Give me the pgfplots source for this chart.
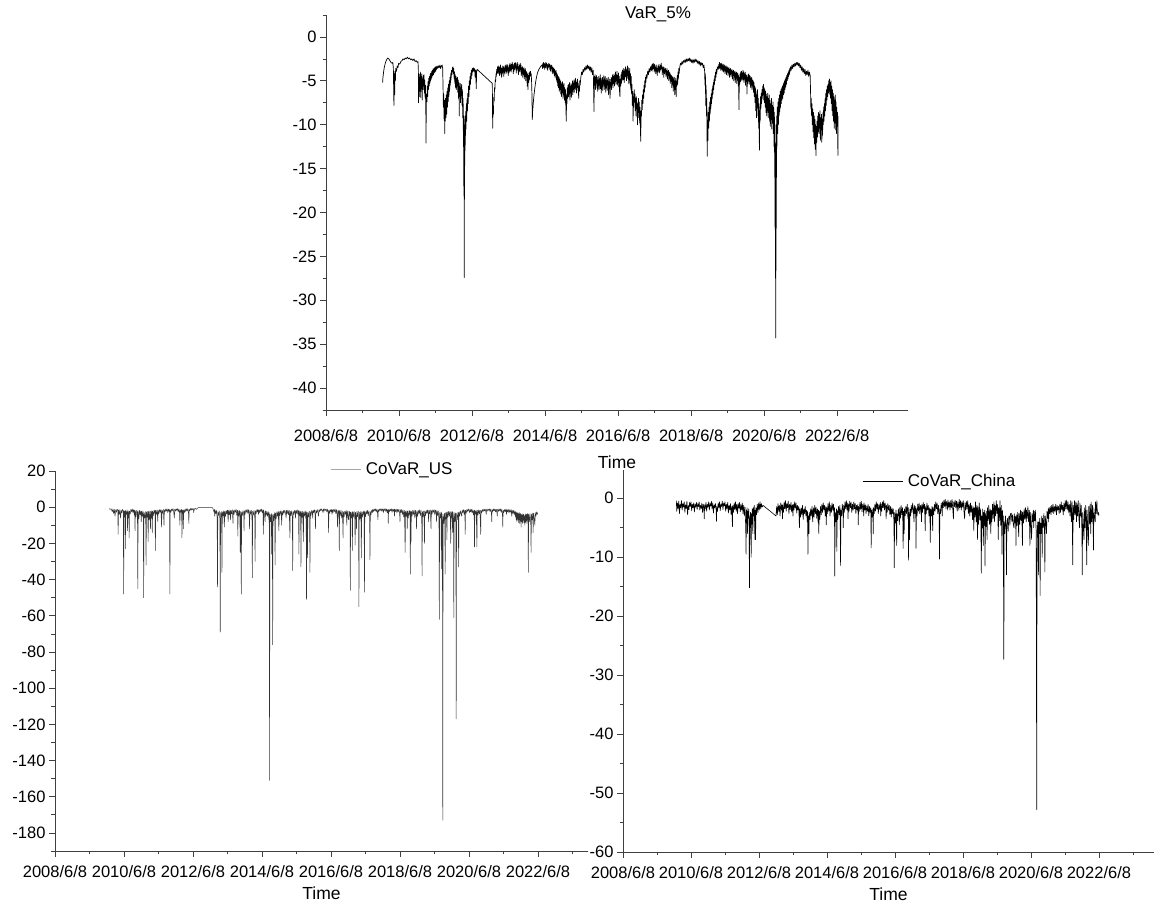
\documentclass[border=0pt]{standalone}
\usepackage{pgfplots}
\pgfplotsset{compat=1.18}
\usepackage{fontspec}
\setmainfont{Liberation Sans}

% x axis: years elapsed since 2008/6/8
\pgfplotsset{
  panel/.style={
    scale only axis,
    anchor=south west,
    axis lines=left,
    axis line style={-, line width=0.7pt, black!75},
    every tick/.style={black!75, line width=0.7pt},
    tick align=outside,
    major tick length=6pt,
    minor tick length=3.5pt,
    xmin=0,
    xtick={0,2,...,14},
    xticklabels={2008/6/8,2010/6/8,2012/6/8,2014/6/8,2016/6/8,2018/6/8,2020/6/8,2022/6/8},
    minor xtick={1,3,...,15},
    tick label style={font=\fontsize{16.5}{19}\selectfont},
    label style={font=\fontsize{17.5}{20}\selectfont},
    /pgf/number format/assume math mode=true,
    xlabel={Time},
    legend style={draw=none, fill=none, font=\fontsize{17}{20}\selectfont, anchor=west, inner sep=0pt, column sep=3pt},
    legend cell align=left,
  },
  series/.style={line width=0.6pt, line join=round, black},
}

\begin{document}
\begin{tikzpicture}
\useasboundingbox (0pt,0pt) rectangle (1159pt,907pt);

% ---------------- VaR 5% ----------------
\begin{axis}[panel,
  at={(326pt,497pt)}, width=582pt, height=395pt,
  xmax=15.94, ymin=-42.5, ymax=2.5,
  ytick={-40,-35,...,0}, minor ytick={-42.5,-37.5,...,2.5},
  xticklabel style={yshift=-10pt},
  xlabel style={at={(axis description cs:0.5,-0.132)}, anchor=center},
  legend style={at={(rel axis cs:0.505,1.003)}},
  legend image code/.code={},
]
\addplot[series, line width=0.7pt] coordinates {
(1.55,-5.2)(1.56,-4.6)(1.58,-3.9)(1.60,-3.4)(1.63,-2.9)(1.66,-2.6)(1.69,-2.4)(1.72,-2.5)(1.75,-2.7)(1.78,-2.9)(1.81,-3.0)(1.83,-2.9)(1.845,-3.6)(1.86,-7.8)(1.87,-4.2)(1.88,-6.6)(1.89,-3.9)(1.90,-5.0)(1.91,-3.6)(1.93,-3.9)(1.95,-3.3)(1.97,-3.5)(1.99,-3.0)(2.02,-3.1)(2.05,-2.8)(2.08,-2.7)(2.11,-2.5)(2.14,-2.6)(2.17,-2.4)(2.20,-2.5)(2.23,-2.3)(2.26,-2.5)(2.29,-2.4)(2.32,-2.6)(2.35,-2.5)(2.38,-2.7)(2.41,-2.5)(2.44,-2.8)(2.47,-2.7)(2.50,-2.9)(2.52,-2.8)
(2.53,-3.8)(2.535,-7.5)(2.545,-4.2)(2.555,-6.8)(2.565,-4.6)(2.575,-6.2)(2.585,-4.0)(2.595,-6.9)(2.605,-4.5)(2.615,-5.8)(2.625,-4.2)(2.635,-7.2)(2.645,-4.8)(2.655,-6.0)(2.665,-4.4)(2.675,-5.6)(2.685,-4.3)(2.695,-6.4)(2.705,-4.9)(2.715,-7.0)(2.725,-5.5)(2.735,-9.0)(2.74,-12.1)(2.745,-8.0)(2.755,-6.5)(2.765,-7.4)(2.775,-5.6)(2.785,-6.8)(2.795,-5.1)(2.805,-6.0)(2.815,-4.7)(2.825,-5.6)(2.835,-4.5)(2.845,-5.3)(2.855,-4.2)(2.865,-5.0)(2.875,-4.1)(2.885,-4.8)(2.895,-3.9)(2.905,-4.6)(2.915,-3.8)(2.925,-4.4)(2.935,-3.6)(2.945,-4.3)(2.955,-3.7)(2.965,-4.1)(2.975,-3.5)(2.985,-4.0)(2.995,-3.4)(3.005,-3.9)(3.015,-3.4)(3.025,-3.7)(3.04,-3.3)(3.06,-3.6)(3.08,-3.3)(3.10,-3.5)(3.12,-3.2)(3.14,-3.6)(3.16,-3.3)(3.18,-3.2)(3.195,-3.6)
(3.205,-5.5)(3.215,-8.0)(3.225,-6.5)(3.235,-9.5)(3.245,-7.2)(3.25,-11.0)(3.255,-8.3)(3.265,-9.6)(3.275,-7.0)(3.285,-9.2)(3.295,-6.6)(3.305,-8.8)(3.315,-6.2)(3.325,-8.0)(3.335,-5.8)(3.345,-7.4)(3.355,-5.4)(3.365,-6.8)(3.375,-5.0)(3.385,-6.2)(3.395,-4.6)(3.405,-5.5)(3.415,-4.2)(3.425,-4.9)(3.435,-3.8)(3.45,-4.3)(3.465,-3.5)(3.48,-3.4)
(3.49,-4.2)(3.50,-3.6)(3.51,-4.8)(3.52,-4.0)(3.53,-5.3)(3.54,-4.3)(3.55,-5.8)(3.56,-4.5)(3.57,-6.0)(3.58,-4.7)(3.59,-5.6)(3.60,-4.6)(3.61,-6.3)(3.62,-4.9)(3.63,-7.0)(3.64,-5.2)(3.65,-9.0)(3.655,-5.6)(3.665,-6.8)(3.675,-5.3)(3.685,-7.5)(3.695,-5.8)(3.705,-6.6)(3.715,-5.4)(3.725,-7.8)(3.735,-6.0)(3.745,-9.2)(3.755,-7.0)(3.765,-12.5)(3.77,-9.0)(3.775,-17.0)(3.78,-11.0)(3.785,-27.4)(3.79,-12.5)(3.795,-18.5)(3.80,-10.0)(3.805,-13.0)(3.81,-9.0)(3.815,-12.3)(3.825,-8.5)(3.835,-10.5)(3.845,-7.6)(3.855,-9.6)(3.865,-7.0)(3.875,-8.4)(3.885,-6.4)(3.895,-7.6)(3.905,-5.6)(3.915,-6.8)(3.925,-5.0)(3.935,-6.0)(3.945,-4.5)(3.955,-5.4)(3.965,-4.1)(3.975,-4.8)(3.985,-3.8)(3.995,-4.4)(4.005,-3.6)(4.02,-4.0)(4.035,-3.5)(4.05,-3.9)(4.07,-3.6)(4.085,-4.6)(4.10,-3.8)(4.115,-5.9)(4.125,-4.0)(4.14,-3.7)
(4.555,-5.3)(4.565,-10.4)(4.575,-8.2)(4.585,-8.8)(4.595,-6.9)(4.605,-7.3)(4.615,-5.8)(4.625,-6.0)(4.635,-4.9)(4.645,-5.1)(4.655,-4.2)(4.665,-4.5)(4.675,-3.7)(4.685,-4.1)
(4.70,-3.4)(4.71,-4.2)(4.72,-3.3)(4.73,-4.0)(4.74,-3.5)(4.75,-4.4)(4.76,-3.4)(4.77,-4.1)(4.78,-3.2)(4.79,-4.3)(4.80,-3.5)(4.81,-4.6)(4.82,-3.6)(4.83,-4.2)(4.84,-3.3)(4.85,-4.0)(4.86,-3.4)(4.87,-4.5)(4.88,-3.6)(4.89,-4.1)(4.90,-3.3)(4.91,-3.9)(4.92,-3.2)(4.93,-4.2)(4.94,-3.4)(4.95,-4.0)(4.96,-3.1)(4.97,-3.8)(4.98,-3.3)(4.99,-4.4)(5.00,-3.5)(5.01,-4.1)(5.02,-3.2)(5.03,-3.9)(5.04,-3.0)(5.05,-3.8)(5.06,-3.2)(5.07,-4.0)(5.08,-3.1)(5.09,-3.7)(5.10,-2.9)(5.11,-3.6)(5.12,-3.1)(5.13,-4.2)(5.14,-3.3)(5.15,-3.9)(5.16,-3.0)(5.17,-3.7)(5.18,-2.9)(5.19,-3.5)(5.20,-3.0)(5.21,-4.1)(5.22,-3.3)(5.23,-3.8)(5.24,-2.9)(5.25,-3.6)(5.26,-3.1)(5.27,-4.3)(5.28,-3.4)(5.29,-3.9)(5.30,-3.2)(5.31,-4.0)(5.32,-3.0)(5.33,-3.7)(5.34,-3.2)(5.35,-4.4)(5.36,-3.5)(5.37,-4.2)(5.38,-3.4)(5.39,-4.6)(5.40,-3.6)(5.41,-4.3)(5.42,-3.5)(5.43,-4.8)(5.44,-3.8)(5.45,-4.5)(5.46,-3.6)(5.47,-5.0)(5.48,-3.9)(5.49,-4.6)(5.50,-4.0)(5.51,-5.6)(5.52,-4.2)(5.53,-6.0)(5.54,-4.4)(5.55,-5.2)(5.56,-4.1)(5.57,-4.9)(5.58,-4.0)(5.59,-4.5)(5.60,-3.9)(5.61,-4.4)(5.62,-4.2)(5.63,-5.0)(5.64,-6.5)
(5.65,-9.4)(5.66,-8.4)(5.67,-7.9)(5.685,-7.1)(5.70,-6.5)(5.72,-5.8)(5.74,-5.2)(5.76,-4.7)(5.78,-4.3)(5.80,-4.0)(5.83,-3.7)(5.86,-3.5)(5.89,-3.3)(5.92,-3.2)
(5.93,-3.6)(5.94,-3.0)(5.95,-3.5)(5.96,-2.9)(5.97,-3.4)(5.98,-3.0)(5.99,-3.7)(6.00,-3.1)(6.01,-3.5)(6.02,-2.9)(6.03,-3.3)(6.04,-3.0)(6.05,-3.6)(6.06,-3.1)(6.07,-3.8)(6.08,-3.2)(6.09,-3.5)(6.10,-3.0)(6.11,-3.4)(6.12,-3.1)(6.13,-3.7)(6.14,-3.2)(6.15,-3.9)(6.16,-3.3)(6.17,-3.6)(6.18,-3.2)(6.19,-4.0)(6.20,-3.4)(6.21,-4.2)(6.22,-3.6)(6.23,-4.0)(6.24,-3.5)(6.25,-4.4)(6.26,-3.7)(6.27,-4.6)(6.28,-3.9)(6.29,-4.3)(6.30,-3.8)
(6.31,-4.9)(6.32,-4.1)(6.33,-5.2)(6.34,-4.3)(6.35,-5.6)(6.36,-4.5)(6.37,-5.8)(6.38,-4.6)(6.39,-6.2)(6.40,-4.8)(6.41,-6.0)(6.42,-5.0)(6.43,-6.5)(6.44,-5.2)(6.45,-6.8)(6.46,-5.4)(6.47,-6.4)(6.48,-5.1)(6.49,-7.0)(6.50,-5.5)(6.51,-6.6)(6.52,-5.3)(6.53,-7.2)(6.54,-5.8)(6.55,-7.5)(6.56,-6.0)(6.57,-8.0)(6.58,-9.6)(6.59,-6.5)(6.60,-7.6)(6.61,-5.8)(6.62,-7.0)(6.63,-5.5)(6.64,-6.8)(6.65,-5.4)(6.66,-6.5)(6.67,-5.2)(6.68,-7.2)(6.69,-5.6)(6.70,-6.4)(6.71,-5.3)(6.72,-6.9)(6.73,-5.5)(6.74,-6.2)(6.75,-5.0)(6.76,-6.6)(6.77,-5.3)(6.78,-6.0)(6.79,-4.9)(6.80,-6.3)(6.81,-5.1)(6.82,-5.8)(6.83,-4.7)(6.84,-6.0)(6.85,-5.0)(6.86,-6.4)(6.87,-5.2)(6.88,-5.7)(6.89,-4.8)(6.90,-6.1)(6.91,-5.3)(6.92,-7.0)(6.93,-5.6)(6.94,-6.2)(6.95,-5.0)(6.96,-5.5)
(6.98,-4.6)(7.00,-4.0)(7.02,-4.3)(7.04,-3.7)(7.06,-4.0)(7.08,-3.5)(7.10,-3.8)(7.12,-3.3)(7.14,-3.7)(7.16,-3.2)(7.18,-3.6)(7.20,-3.3)(7.22,-3.8)(7.24,-3.4)(7.26,-4.0)(7.28,-3.5)(7.30,-4.3)(7.32,-3.8)(7.34,-8.5)(7.35,-4.5)(7.36,-5.5)(7.37,-4.3)(7.38,-6.0)(7.39,-4.6)
(7.40,-5.2)(7.41,-4.4)(7.42,-5.8)(7.43,-4.6)(7.44,-6.2)(7.45,-4.9)(7.46,-5.6)(7.47,-4.5)(7.48,-6.0)(7.49,-4.8)(7.50,-5.5)(7.51,-4.3)(7.52,-5.9)(7.53,-4.7)(7.54,-6.4)(7.55,-5.0)(7.56,-5.7)(7.57,-4.6)(7.58,-6.1)(7.59,-4.9)(7.60,-5.4)(7.61,-4.4)(7.62,-6.0)(7.63,-4.8)(7.64,-5.6)(7.65,-4.5)(7.66,-6.3)(7.67,-5.0)(7.68,-5.8)(7.69,-4.7)(7.70,-6.1)(7.71,-4.9)(7.72,-5.5)(7.73,-4.6)(7.74,-6.6)(7.75,-5.1)(7.76,-5.9)(7.77,-4.8)(7.78,-7.0)(7.79,-5.2)(7.80,-5.7)(7.81,-4.6)(7.82,-6.0)(7.83,-4.7)(7.84,-5.4)(7.85,-4.3)(7.86,-5.8)(7.87,-4.5)(7.88,-5.3)(7.89,-4.2)(7.90,-5.6)(7.91,-4.4)(7.92,-5.1)(7.93,-4.0)(7.94,-5.4)(7.95,-4.3)(7.96,-5.0)(7.97,-3.9)(7.98,-5.5)(7.99,-4.4)(8.00,-5.2)(8.01,-4.1)(8.02,-5.7)(8.03,-4.5)(8.04,-6.2)(8.05,-6.8)(8.06,-4.8)(8.07,-5.6)(8.08,-4.3)(8.09,-5.3)(8.10,-4.0)(8.11,-5.0)(8.12,-3.8)(8.13,-4.8)(8.14,-3.6)(8.15,-4.9)(8.16,-3.9)(8.17,-5.2)(8.18,-3.7)(8.19,-4.6)(8.20,-3.4)(8.21,-4.5)(8.22,-3.6)(8.23,-5.0)(8.24,-3.8)(8.25,-4.7)(8.26,-3.3)(8.27,-4.4)(8.28,-3.5)(8.29,-5.3)(8.30,-3.9)(8.31,-4.9)(8.32,-3.6)(8.33,-5.5)(8.34,-4.2)(8.35,-6.0)(8.36,-4.5)
(8.37,-6.5)(8.38,-5.4)(8.39,-7.8)(8.40,-6.2)(8.41,-9.6)(8.42,-6.8)(8.43,-8.0)(8.44,-6.0)(8.45,-7.4)(8.46,-6.5)(8.47,-8.4)(8.48,-7.0)(8.49,-9.0)(8.50,-6.8)(8.51,-8.2)(8.52,-7.4)(8.53,-10.0)(8.54,-7.6)(8.55,-9.2)(8.56,-7.0)(8.57,-8.6)(8.58,-7.4)(8.59,-9.8)(8.60,-8.0)(8.61,-10.3)(8.62,-11.9)(8.63,-8.4)(8.64,-9.0)(8.65,-7.2)(8.66,-8.3)(8.67,-6.6)(8.68,-7.6)(8.69,-6.0)(8.70,-7.0)(8.71,-5.5)(8.72,-6.3)(8.73,-5.0)(8.74,-5.8)(8.75,-4.6)(8.76,-5.2)(8.77,-4.3)(8.79,-4.7)(8.81,-3.9)(8.83,-4.3)(8.85,-3.6)(8.87,-4.0)(8.89,-3.4)(8.91,-3.8)
(8.92,-3.2)(8.93,-3.9)(8.94,-3.1)(8.95,-3.7)(8.96,-3.0)(8.97,-3.6)(8.98,-3.2)(8.99,-4.0)(9.00,-3.1)(9.01,-3.8)(9.02,-3.3)(9.03,-4.2)(9.04,-3.5)(9.05,-3.9)(9.06,-3.2)(9.07,-4.4)(9.08,-3.6)(9.09,-4.0)(9.10,-3.3)(9.11,-3.8)(9.12,-3.1)(9.13,-4.1)(9.14,-3.4)(9.15,-3.9)(9.16,-3.2)(9.17,-3.7)(9.18,-3.0)(9.19,-3.6)(9.20,-3.3)(9.21,-4.3)(9.22,-3.5)(9.23,-4.0)(9.24,-3.4)(9.25,-4.6)(9.26,-3.7)(9.27,-4.2)(9.28,-3.5)(9.29,-4.0)(9.30,-3.6)(9.31,-4.5)(9.32,-3.8)(9.33,-4.3)(9.34,-3.6)(9.35,-4.8)(9.36,-3.9)(9.37,-4.4)(9.38,-3.8)(9.39,-5.0)(9.40,-4.0)(9.41,-4.7)(9.42,-4.1)(9.43,-5.3)(9.44,-4.3)(9.45,-5.0)(9.46,-4.4)(9.47,-5.8)(9.48,-4.6)(9.49,-5.4)(9.50,-4.5)(9.51,-6.2)(9.52,-4.8)(9.53,-5.7)(9.54,-4.6)(9.55,-6.6)(9.56,-5.0)(9.57,-6.0)(9.58,-4.7)(9.59,-6.8)(9.60,-5.1)(9.61,-5.6)(9.62,-4.4)(9.63,-5.4)(9.64,-4.0)(9.65,-4.8)(9.66,-3.6)(9.67,-4.2)
(9.69,-3.4)(9.71,-3.0)(9.73,-3.2)(9.75,-2.8)(9.77,-3.1)(9.79,-2.7)(9.81,-2.9)(9.83,-2.6)(9.85,-2.9)(9.87,-2.5)(9.89,-2.8)(9.91,-2.5)(9.93,-2.7)(9.95,-2.4)(9.97,-2.8)(9.99,-2.5)(10.01,-2.9)(10.03,-2.6)(10.05,-3.0)(10.07,-2.6)(10.09,-2.9)(10.11,-2.5)(10.13,-2.8)(10.15,-2.6)(10.17,-3.0)(10.19,-2.7)(10.21,-3.1)(10.23,-2.8)(10.25,-3.3)(10.27,-2.9)(10.29,-3.2)(10.31,-3.0)(10.33,-3.5)(10.35,-3.2)(10.37,-3.9)
(10.38,-5.5)(10.39,-4.2)(10.40,-7.8)(10.41,-5.5)(10.42,-9.0)(10.43,-7.0)(10.44,-13.6)(10.45,-9.5)(10.46,-11.8)(10.47,-8.6)(10.48,-10.4)(10.49,-8.0)(10.50,-9.6)(10.51,-7.4)(10.52,-8.8)(10.53,-6.9)(10.54,-8.2)(10.55,-6.5)(10.56,-7.6)(10.57,-6.0)(10.58,-7.0)(10.59,-5.6)(10.60,-6.5)(10.61,-5.2)(10.62,-6.0)(10.63,-4.8)(10.64,-5.4)(10.65,-4.4)(10.66,-5.0)(10.67,-4.0)(10.68,-4.6)(10.69,-3.7)(10.70,-4.2)(10.72,-3.4)(10.74,-3.7)(10.76,-3.1)
(10.77,-3.6)(10.78,-2.9)(10.79,-3.5)(10.80,-3.0)(10.81,-3.8)(10.82,-3.1)(10.83,-3.6)(10.84,-3.0)(10.85,-3.9)(10.86,-3.2)(10.87,-3.7)(10.88,-3.1)(10.89,-4.0)(10.90,-3.3)(10.91,-3.8)(10.92,-3.2)(10.93,-4.2)(10.94,-3.4)(10.95,-3.9)(10.96,-3.3)(10.97,-4.3)(10.98,-3.5)(10.99,-4.0)(11.00,-3.4)(11.01,-4.4)(11.02,-3.6)(11.03,-4.1)(11.04,-3.5)(11.05,-4.6)(11.06,-3.7)(11.07,-4.3)(11.08,-3.6)(11.09,-4.5)(11.10,-3.8)(11.11,-4.2)(11.12,-3.7)(11.13,-4.8)(11.14,-3.9)(11.15,-4.4)(11.16,-3.8)(11.17,-5.0)(11.18,-4.0)(11.19,-4.6)(11.20,-3.9)(11.21,-5.2)(11.22,-4.1)(11.23,-4.7)(11.24,-4.0)(11.25,-5.3)(11.26,-4.2)(11.27,-4.9)(11.28,-4.1)(11.29,-5.6)(11.30,-4.4)(11.31,-8.3)(11.32,-4.6)(11.33,-5.4)(11.34,-4.2)(11.35,-5.1)(11.36,-4.0)(11.37,-4.8)(11.38,-3.9)(11.39,-5.0)(11.40,-4.1)(11.41,-4.7)(11.42,-3.8)(11.43,-4.9)(11.44,-4.0)(11.45,-5.2)(11.46,-4.2)(11.47,-4.8)(11.48,-4.0)(11.49,-5.5)(11.50,-4.3)(11.51,-5.0)(11.52,-4.4)(11.53,-6.5)(11.54,-4.6)(11.55,-5.3)(11.56,-4.3)(11.57,-5.0)(11.58,-4.2)(11.59,-5.4)(11.60,-4.4)(11.61,-5.1)(11.62,-4.5)(11.63,-5.8)(11.64,-4.7)(11.65,-5.5)(11.66,-4.6)(11.67,-6.0)(11.68,-4.9)(11.69,-5.6)(11.70,-5.0)(11.71,-6.3)(11.72,-5.2)(11.73,-6.8)
(11.74,-5.6)(11.75,-7.5)(11.76,-5.8)(11.77,-8.4)(11.78,-6.2)(11.79,-9.2)(11.80,-6.6)(11.81,-8.0)(11.82,-6.0)(11.83,-9.0)(11.84,-7.0)(11.85,-10.4)(11.86,-7.6)(11.87,-12.9)(11.88,-8.4)(11.89,-9.6)(11.90,-6.8)(11.91,-8.2)(11.92,-6.4)(11.93,-7.6)(11.94,-6.0)(11.95,-7.0)(11.96,-5.6)(11.97,-6.6)(11.98,-5.4)(11.99,-7.2)(12.00,-5.8)(12.01,-7.5)(12.02,-6.0)(12.03,-8.0)(12.04,-6.2)(12.05,-8.6)(12.06,-6.5)(12.07,-9.0)(12.08,-6.8)(12.09,-8.4)(12.10,-6.4)(12.11,-9.2)(12.12,-7.0)(12.13,-8.6)(12.14,-6.6)(12.15,-9.6)(12.16,-7.2)(12.17,-10.2)(12.18,-7.6)(12.19,-9.4)(12.20,-7.0)(12.21,-10.5)(12.22,-7.8)(12.23,-9.8)(12.24,-7.4)(12.25,-11.0)(12.26,-8.0)(12.27,-12.5)(12.28,-8.6)(12.29,-16.0)(12.295,-10.0)(12.30,-22.0)(12.305,-12.0)(12.31,-27.5)(12.315,-14.0)(12.32,-34.3)(12.325,-12.5)(12.33,-21.8)(12.335,-10.0)(12.34,-16.0)(12.345,-9.0)(12.35,-12.4)(12.36,-8.0)(12.37,-11.0)(12.38,-7.4)(12.39,-10.0)(12.40,-7.0)(12.41,-9.0)(12.42,-6.6)(12.43,-8.5)(12.44,-6.2)(12.45,-8.0)(12.46,-6.0)(12.47,-7.6)(12.48,-5.8)(12.49,-7.2)(12.50,-5.6)(12.51,-7.0)(12.52,-5.4)(12.53,-6.6)(12.54,-5.2)(12.55,-6.4)(12.56,-5.0)(12.57,-6.0)(12.58,-4.8)(12.59,-5.7)(12.60,-4.6)(12.61,-5.4)(12.62,-4.4)(12.63,-5.0)(12.64,-4.2)(12.65,-4.8)(12.66,-4.0)(12.67,-4.5)(12.68,-3.8)(12.69,-4.3)(12.70,-3.6)(12.71,-4.0)
(12.72,-3.4)(12.74,-3.8)(12.76,-3.2)(12.78,-3.6)(12.80,-3.1)(12.82,-3.4)(12.84,-3.0)(12.86,-3.3)(12.88,-2.9)(12.90,-3.2)(12.92,-2.9)(12.94,-3.3)(12.96,-3.0)(12.98,-3.5)(13.00,-3.2)(13.02,-3.8)(13.04,-3.4)(13.06,-4.0)(13.08,-3.6)(13.10,-4.2)(13.12,-3.7)(13.14,-4.4)(13.16,-3.9)(13.18,-4.3)(13.20,-3.8)(13.22,-4.5)(13.24,-4.0)(13.26,-4.4)
(13.27,-6.0)(13.28,-8.2)(13.29,-7.0)(13.30,-9.0)(13.31,-7.6)(13.32,-10.0)(13.33,-8.2)(13.34,-10.8)(13.35,-8.6)(13.36,-11.5)(13.37,-9.0)(13.38,-12.2)(13.39,-9.4)(13.40,-12.8)(13.41,-10.0)(13.42,-13.5)(13.43,-10.2)(13.44,-12.0)(13.45,-9.6)(13.46,-11.4)(13.47,-9.0)(13.48,-10.8)(13.49,-8.6)(13.50,-11.0)(13.51,-8.8)(13.52,-10.4)(13.53,-8.4)(13.54,-11.8)(13.55,-9.2)(13.56,-10.6)(13.57,-8.8)(13.58,-12.0)(13.59,-9.4)(13.60,-11.2)(13.61,-8.6)(13.62,-10.0)(13.63,-8.0)(13.64,-9.6)(13.65,-7.6)(13.66,-9.0)(13.67,-7.0)(13.68,-8.4)(13.69,-6.4)(13.70,-7.8)(13.71,-6.0)(13.72,-7.2)(13.73,-5.6)(13.74,-6.8)(13.75,-5.4)(13.76,-6.4)(13.77,-5.0)(13.78,-6.2)(13.79,-4.8)(13.80,-6.6)(13.81,-5.2)(13.82,-7.0)(13.83,-5.0)(13.84,-7.6)(13.85,-5.6)(13.86,-8.4)(13.87,-6.0)(13.88,-9.0)(13.89,-6.4)(13.90,-9.6)(13.91,-6.8)(13.92,-10.4)(13.93,-7.2)(13.94,-9.8)(13.95,-6.6)(13.96,-10.6)(13.97,-7.4)(13.98,-11.0)(13.99,-8.0)(14.00,-10.2)(14.01,-8.6)(14.02,-13.5)(14.025,-9.0)
};
\addlegendentry{VaR\_5\%}
\end{axis}

% ---------------- CoVaR US ----------------
\begin{axis}[panel,
  at={(55pt,56pt)}, width=533pt, height=380pt,
  xmax=15.45, ymin=-190, ymax=20,
  ytick={-180,-160,...,20}, minor ytick={-190,-170,...,10},
  xticklabel style={yshift=-5pt},
  xlabel style={at={(axis description cs:0.5,-0.11)}, anchor=center},
  legend style={at={(rel axis cs:0.516,1.004)}},
  legend image code/.code={\draw[black!35, line width=0.6pt] (0pt,0pt) -- (30pt,0pt);},
]
\addplot[series, black!80, line width=0.5pt] coordinates {
(1.57,-0.8)(1.60,-1.2)(1.63,-0.9)(1.66,-2.5)(1.68,-1.0)(1.70,-3.5)(1.72,-1.2)(1.74,-5.0)(1.76,-1.4)(1.78,-2.8)(1.80,-1.1)(1.82,-1.6)(1.83,-15)(1.84,-1.5)(1.86,-4.0)(1.88,-1.3)(1.90,-6.0)(1.92,-1.6)(1.94,-3.2)(1.96,-1.2)(1.98,-2.0)(1.99,-48)(2.00,-2.2)(2.02,-5.5)(2.03,-1.8)(2.04,-23)(2.05,-2.0)(2.07,-4.0)(2.09,-1.5)(2.10,-13)(2.11,-2.4)(2.13,-6.0)(2.14,-2.0)(2.15,-17)(2.16,-2.2)(2.18,-3.8)(2.20,-1.2)(2.22,-2.6)(2.24,-1.0)(2.26,-3.0)(2.28,-1.3)(2.30,-4.5)(2.31,-1.6)(2.32,-13)(2.33,-2.0)(2.35,-5.2)(2.37,-1.7)(2.39,-3.0)(2.40,-45)(2.41,-2.1)(2.43,-6.5)(2.45,-1.8)(2.47,-4.2)(2.49,-2.0)(2.50,-8)(2.51,-2.3)(2.53,-5.0)(2.55,-2.0)(2.56,-7.0)(2.57,-50)(2.58,-3.0)(2.60,-6.0)(2.62,-2.4)(2.63,-8.0)(2.64,-32)(2.65,-2.6)(2.67,-5.5)(2.69,-2.2)(2.70,-19)(2.71,-2.4)(2.73,-7.0)(2.75,-2.0)(2.77,-12)(2.78,-2.2)(2.80,-6.0)(2.81,-2.0)(2.82,-14)(2.83,-2.3)(2.85,-4.8)(2.87,-1.8)(2.89,-3.5)(2.90,-1.6)(2.91,-24)(2.92,-1.9)(2.94,-4.0)(2.96,-1.5)(2.98,-8)(2.99,-1.7)
(3.01,-3.6)(3.03,-1.4)(3.05,-2.8)(3.07,-1.3)(3.09,-11)(3.10,-1.6)(3.12,-3.4)(3.14,-1.2)(3.16,-10)(3.17,-1.5)(3.19,-2.6)(3.21,-1.0)(3.23,-2.2)(3.25,-0.9)(3.27,-3.0)(3.29,-1.1)(3.31,-2.4)(3.32,-1.3)(3.33,-48)(3.34,-1.5)(3.36,-2.8)(3.38,-1.0)(3.40,-2.0)(3.42,-0.8)(3.44,-2.5)(3.46,-6)(3.47,-1.2)(3.49,-2.2)(3.51,-0.9)(3.53,-1.8)(3.55,-0.8)(3.57,-2.6)(3.59,-1.0)(3.61,-3.0)(3.62,-10)(3.63,-1.4)(3.65,-2.8)(3.67,-1.2)(3.68,-17)(3.69,-1.6)(3.71,-2.2)(3.72,-12)(3.73,-1.5)(3.75,-3.0)(3.77,-1.0)(3.79,-2.4)(3.81,-0.9)(3.83,-2.0)(3.85,-0.8)(3.87,-3.5)(3.88,-9)(3.89,-1.2)(3.91,-2.0)(3.93,-0.7)(3.95,-1.6)(3.97,-0.6)(3.99,-1.4)(4.01,-0.8)(4.02,-3)(4.04,-1.0)(4.07,-0.6)(4.10,-1.2)(4.13,-0.5)(4.15,-0.3)(4.57,-0.3)
(4.59,-1.5)(4.61,-2.8)(4.62,-1.2)(4.63,-5)(4.64,-1.6)(4.66,-3.5)(4.68,-1.8)(4.70,-6.0)(4.71,-44)(4.72,-2.5)(4.74,-4.5)(4.76,-2.0)(4.78,-7.0)(4.79,-69)(4.80,-3.0)(4.82,-5.5)(4.83,-2.4)(4.84,-36)(4.85,-2.6)(4.87,-4.8)(4.89,-2.0)(4.91,-11)(4.92,-2.2)(4.94,-5.2)(4.96,-1.8)(4.98,-3.8)(5.00,-1.6)(5.02,-8)(5.03,-1.8)(5.05,-4.2)(5.07,-1.5)(5.09,-7)(5.10,-1.7)(5.12,-3.6)(5.14,-1.4)(5.16,-9)(5.17,-1.8)(5.19,-4.0)(5.21,-1.5)(5.23,-2.8)(5.25,-1.2)(5.27,-4.5)(5.29,-1.6)(5.30,-16)(5.31,-2.0)(5.33,-5.0)(5.35,-1.8)(5.36,-6.5)(5.37,-25)(5.38,-2.4)(5.39,-5.0)(5.40,-48)(5.41,-2.6)(5.43,-4.6)(5.45,-1.9)(5.47,-3.5)(5.48,-13)(5.49,-2.0)(5.51,-4.0)(5.53,-1.5)(5.55,-2.8)(5.57,-1.2)(5.59,-3.4)(5.61,-1.4)(5.63,-5.0)(5.64,-12)(5.65,-1.8)(5.67,-3.8)(5.69,-1.6)(5.71,-6.0)(5.72,-39)(5.73,-2.2)(5.75,-4.4)(5.77,-1.8)(5.79,-5.5)(5.80,-30)(5.81,-2.0)(5.83,-3.6)(5.85,-1.4)(5.87,-2.6)(5.88,-1.2)(5.90,-4)(5.91,-1.5)(5.93,-3.0)(5.95,-1.2)(5.97,-2.4)(5.99,-1.0)
(6.01,-3.2)(6.03,-1.4)(6.04,-15)(6.05,-1.8)(6.07,-3.6)(6.09,-8)(6.10,-2.0)(6.12,-4.5)(6.14,-2.2)(6.16,-5.0)(6.18,-2.5)(6.20,-7.0)(6.21,-3.0)(6.22,-151)(6.23,-4.0)(6.25,-8.0)(6.27,-3.5)(6.28,-26)(6.29,-4.2)(6.30,-9.0)(6.31,-76)(6.32,-3.8)(6.34,-7.5)(6.36,-3.0)(6.37,-6.0)(6.38,-32)(6.39,-3.2)(6.41,-6.5)(6.43,-2.6)(6.45,-5.0)(6.47,-2.2)(6.49,-13)(6.50,-2.4)(6.52,-4.6)(6.54,-2.0)(6.56,-3.8)(6.57,-10)(6.58,-2.2)(6.60,-4.4)(6.62,-1.8)(6.64,-3.4)(6.66,-1.6)(6.68,-2.8)(6.70,-6)(6.71,-1.8)(6.73,-3.6)(6.75,-1.5)(6.77,-4.2)(6.79,-1.8)(6.81,-17)(6.82,-2.2)(6.84,-4.6)(6.86,-2.0)(6.88,-5.4)(6.89,-35)(6.90,-2.4)(6.92,-4.0)(6.94,-1.8)(6.96,-3.2)(6.97,-6)(6.98,-1.6)
(7.00,-3.4)(7.02,-1.4)(7.04,-4.0)(7.06,-1.8)(7.07,-26)(7.08,-2.0)(7.10,-4.8)(7.12,-2.2)(7.13,-33)(7.14,-2.5)(7.16,-5.6)(7.18,-2.2)(7.20,-19)(7.21,-2.6)(7.23,-5.0)(7.25,-2.0)(7.27,-6.2)(7.28,-2.4)(7.29,-51)(7.30,-3.0)(7.31,-6.0)(7.32,-28)(7.33,-2.8)(7.35,-5.4)(7.37,-2.2)(7.38,-6.4)(7.39,-36)(7.40,-2.6)(7.42,-4.6)(7.44,-1.8)(7.46,-3.2)(7.47,-6)(7.48,-1.6)(7.50,-3.0)(7.52,-1.4)(7.54,-4.0)(7.55,-12)(7.56,-1.8)(7.58,-3.2)(7.60,-1.3)(7.62,-2.6)(7.64,-5)(7.65,-1.4)(7.67,-2.4)(7.69,-1.0)(7.71,-2.0)(7.73,-0.9)(7.75,-1.8)(7.77,-3)(7.78,-1.0)(7.80,-2.2)(7.82,-0.9)(7.84,-1.8)(7.86,-1.0)(7.88,-2.6)(7.90,-1.2)(7.92,-3.0)(7.93,-14)(7.94,-1.6)(7.96,-3.4)(7.98,-1.3)
(8.00,-2.6)(8.02,-1.2)(8.03,-4)(8.04,-1.4)(8.06,-3.0)(8.08,-1.2)(8.10,-2.4)(8.12,-1.0)(8.14,-3.6)(8.16,-1.4)(8.18,-4.5)(8.19,-11)(8.20,-1.8)(8.22,-3.8)(8.23,-1.6)(8.24,-24)(8.25,-2.0)(8.27,-4.6)(8.29,-1.8)(8.31,-6.0)(8.33,-2.2)(8.34,-8.0)(8.35,-17)(8.36,-2.6)(8.38,-5.4)(8.40,-2.2)(8.42,-4.0)(8.44,-1.8)(8.46,-10)(8.47,-2.0)(8.49,-4.4)(8.51,-7)(8.52,-2.2)(8.54,-5.0)(8.55,-2.4)(8.56,-46)(8.57,-2.8)(8.59,-6.0)(8.61,-2.5)(8.62,-24)(8.63,-2.6)(8.65,-5.5)(8.67,-2.2)(8.69,-6.4)(8.70,-21)(8.71,-2.8)(8.73,-5.0)(8.74,-12)(8.75,-2.4)(8.77,-5.2)(8.79,-2.2)(8.80,-7.0)(8.81,-55)(8.82,-2.8)(8.84,-6.4)(8.86,-2.4)(8.87,-8.0)(8.88,-28)(8.89,-2.6)(8.91,-5.6)(8.93,-2.2)(8.95,-4.4)(8.96,-2.0)(8.97,-47)(8.98,-2.6)
(9.00,-5.2)(9.02,-2.0)(9.04,-3.8)(9.06,-1.8)(9.08,-4.6)(9.10,-2.0)(9.12,-6.0)(9.13,-29)(9.14,-2.4)(9.16,-4.2)(9.18,-1.6)(9.20,-3)(9.21,-1.2)(9.23,-2.4)(9.25,-1.0)(9.27,-2.0)(9.29,-0.9)(9.31,-2.6)(9.33,-1.1)(9.35,-3.4)(9.36,-7)(9.37,-1.3)(9.39,-2.4)(9.41,-1.0)(9.43,-1.8)(9.45,-0.8)(9.47,-2.2)(9.49,-1.0)(9.51,-2.0)(9.52,-3)(9.53,-0.9)(9.55,-1.8)(9.57,-0.8)(9.59,-2.4)(9.61,-1.0)(9.63,-3.0)(9.65,-1.2)(9.66,-9)(9.67,-1.4)(9.69,-2.6)(9.71,-1.0)(9.73,-2.0)(9.75,-0.9)(9.77,-2.8)(9.79,-1.1)(9.81,-2.2)(9.83,-1.0)(9.84,-5)(9.85,-1.2)(9.87,-2.4)(9.89,-1.0)(9.91,-3.2)(9.93,-1.2)(9.95,-2.6)(9.97,-1.1)(9.99,-3.6)
(10.00,-8)(10.01,-1.4)(10.03,-3.0)(10.05,-1.2)(10.07,-4.0)(10.09,-1.6)(10.11,-5.5)(10.13,-1.8)(10.15,-25)(10.16,-2.2)(10.18,-5.0)(10.20,-2.0)(10.21,-12)(10.22,-2.2)(10.24,-6.0)(10.26,-2.0)(10.28,-4.4)(10.29,-1.8)(10.30,-37)(10.31,-2.4)(10.32,-19)(10.33,-2.2)(10.35,-5.0)(10.37,-1.8)(10.39,-4.0)(10.41,-1.6)(10.43,-6.0)(10.45,-1.8)(10.47,-4.4)(10.48,-12)(10.49,-2.0)(10.51,-5.0)(10.53,-1.8)(10.55,-3.6)(10.57,-1.4)(10.59,-4.8)(10.61,-1.8)(10.63,-6.4)(10.64,-38)(10.65,-2.4)(10.67,-5.4)(10.69,-2.0)(10.70,-6.0)(10.71,-20)(10.72,-2.2)(10.74,-4.6)(10.76,-1.8)(10.78,-3.4)(10.80,-1.5)(10.82,-4.0)(10.83,-8)(10.84,-1.6)(10.86,-3.6)(10.88,-1.5)(10.90,-12)(10.91,-1.8)(10.93,-3.8)(10.95,-1.5)(10.97,-2.8)(10.99,-1.3)
(11.01,-4.2)(11.03,-1.6)(11.05,-3.4)(11.06,-8)(11.07,-1.8)(11.09,-4.6)(11.11,-2.0)(11.13,-7.0)(11.14,-62)(11.15,-3.0)(11.17,-6.0)(11.19,-2.6)(11.20,-34)(11.21,-3.2)(11.23,-8.0)(11.24,-173)(11.25,-4.0)(11.27,-9.0)(11.29,-3.4)(11.30,-7.0)(11.31,-37)(11.32,-3.0)(11.34,-6.5)(11.35,-2.8)(11.36,-18)(11.37,-2.6)(11.39,-5.6)(11.41,-2.2)(11.43,-4.8)(11.45,-2.4)(11.46,-7.0)(11.47,-20)(11.48,-2.6)(11.50,-6.0)(11.51,-2.4)(11.52,-14)(11.53,-2.6)(11.55,-7.5)(11.56,-61)(11.57,-3.0)(11.59,-8.0)(11.61,-3.2)(11.62,-10)(11.63,-117)(11.64,-3.4)(11.66,-7.0)(11.68,-2.8)(11.69,-6.0)(11.70,-33)(11.71,-2.6)(11.73,-5.0)(11.75,-2.0)(11.77,-3.6)(11.79,-5)(11.80,-1.6)(11.82,-3.0)(11.84,-1.4)(11.86,-4.0)(11.88,-1.6)(11.89,-15)(11.90,-1.8)(11.92,-3.4)(11.94,-1.2)(11.96,-2.4)(11.98,-1.0)
(12.00,-2.0)(12.02,-3)(12.03,-1.0)(12.05,-2.6)(12.07,-1.2)(12.09,-3.2)(12.11,-1.4)(12.13,-4.2)(12.15,-1.6)(12.16,-22)(12.17,-1.8)(12.19,-3.8)(12.21,-1.6)(12.23,-22)(12.24,-1.8)(12.26,-4.4)(12.28,-1.5)(12.30,-3.6)(12.32,-1.6)(12.34,-15)(12.35,-1.8)(12.37,-3.0)(12.39,-1.3)(12.41,-2.4)(12.43,-1.1)(12.45,-2.0)(12.47,-1.0)(12.49,-2.6)(12.50,-4)(12.51,-1.2)(12.53,-2.2)(12.55,-1.0)(12.57,-1.8)(12.59,-0.9)(12.61,-2.4)(12.63,-1.1)(12.65,-3.0)(12.66,-8)(12.67,-1.3)(12.69,-2.4)(12.71,-1.0)(12.73,-2.0)(12.75,-0.9)(12.77,-2.6)(12.79,-1.1)(12.81,-3.0)(12.82,-5)(12.83,-1.2)(12.85,-2.4)(12.87,-1.0)(12.89,-2.0)(12.91,-0.9)(12.93,-2.8)(12.95,-1.2)(12.97,-4.0)(12.98,-11)(12.99,-1.6)
(13.01,-3.0)(13.03,-1.3)(13.05,-2.4)(13.07,-1.1)(13.09,-4)(13.10,-1.3)(13.12,-2.6)(13.14,-1.2)(13.16,-3.2)(13.18,-1.4)(13.20,-2.8)(13.22,-1.3)(13.24,-5)(13.25,-1.6)(13.27,-3.4)(13.29,-1.8)(13.31,-4.2)(13.33,-2.0)(13.35,-5.5)(13.36,-2.4)(13.37,-7.0)(13.38,-3.0)(13.39,-8.0)(13.40,-3.4)(13.41,-6.5)(13.42,-2.8)(13.43,-8.5)(13.44,-3.6)(13.45,-7.0)(13.46,-3.0)(13.47,-9.0)(13.48,-4.0)(13.49,-7.5)(13.50,-3.4)(13.51,-11)(13.52,-4.2)(13.53,-8.0)(13.54,-3.6)(13.55,-9.0)(13.56,-4.4)(13.57,-7.2)(13.58,-3.8)(13.59,-8.6)(13.60,-4.6)(13.61,-7.0)(13.62,-10)(13.63,-4.2)(13.64,-8.4)(13.65,-3.6)(13.66,-7.6)(13.67,-4.0)(13.68,-9.0)(13.69,-3.8)(13.70,-7.0)(13.71,-3.4)(13.72,-36)(13.73,-4.0)(13.75,-8.0)(13.77,-3.6)(13.79,-9.0)(13.80,-25)(13.81,-3.8)(13.83,-7.0)(13.85,-3.2)(13.86,-14)(13.87,-3.4)(13.89,-6.0)(13.91,-10)(13.92,-3.0)(13.94,-5.0)(13.96,-2.6)(13.98,-4.0)(13.99,-3.0)
};
\addlegendentry{CoVaR\_US}
\end{axis}

% ---------------- CoVaR China ----------------
\begin{axis}[panel,
  at={(623pt,55pt)}, width=531pt, height=382pt,
  xmax=15.62, ymin=-60, ymax=4.8,
  ytick={-60,-50,...,0}, minor ytick={-55,-45,...,-5},
  xticklabel style={yshift=-5pt},
  xlabel style={at={(axis description cs:0.5,-0.11)}, anchor=center},
  legend style={at={(rel axis cs:0.45,0.971)}},
  legend image code/.code={\draw[black, line width=0.7pt] (0pt,0pt) -- (40pt,0pt);},
]
\addplot[series] coordinates {
(1.57,-0.4)(1.58,-2.2)(1.60,-0.8)(1.62,-1.8)(1.64,-0.5)(1.66,-2.6)(1.68,-1.0)(1.70,-1.6)(1.72,-0.4)(1.74,-2.0)(1.76,-0.9)(1.78,-1.5)(1.80,-0.6)(1.82,-2.4)(1.84,-1.1)(1.86,-1.7)(1.88,-0.5)(1.90,-2.8)(1.92,-1.2)(1.94,-1.9)(1.96,-0.7)(1.98,-1.4)(2.00,-0.6)(2.02,-2.1)(2.04,-1.0)(2.06,-1.6)(2.08,-0.8)(2.10,-2.3)(2.12,-1.0)(2.14,-1.5)(2.16,-0.7)(2.18,-1.9)(2.20,-0.9)(2.22,-1.4)(2.24,-0.6)(2.26,-2.0)(2.28,-1.2)(2.30,-1.7)(2.32,-0.8)(2.34,-2.4)(2.36,-1.0)(2.38,-1.6)(2.39,-3.5)(2.40,-1.1)(2.42,-1.8)(2.44,-0.7)(2.46,-2.2)(2.48,-1.0)(2.50,-1.5)(2.52,-0.6)(2.54,-2.0)(2.56,-0.9)(2.58,-1.3)(2.60,-0.5)(2.62,-1.8)(2.64,-0.8)(2.66,-2.5)(2.68,-1.1)(2.70,-1.6)(2.72,-0.9)(2.74,-2.0)(2.75,-3.9)(2.76,-1.4)(2.78,-2.2)(2.80,-0.8)(2.82,-1.6)(2.84,-0.6)(2.86,-2.1)(2.88,-1.0)(2.90,-1.4)(2.92,-0.5)(2.94,-1.9)(2.96,-0.8)(2.98,-1.3)
(3.00,-0.6)(3.02,-2.2)(3.04,-1.0)(3.06,-1.8)(3.08,-0.7)(3.10,-2.5)(3.12,-1.2)(3.14,-2.0)(3.16,-0.9)(3.18,-2.8)(3.20,-1.4)(3.22,-4.8)(3.23,-1.2)(3.25,-2.4)(3.27,-0.8)(3.29,-1.9)(3.31,-0.6)(3.33,-2.2)(3.35,-1.0)(3.37,-2.6)(3.39,-0.9)(3.41,-1.7)(3.43,-0.7)(3.45,-2.3)(3.47,-1.1)(3.49,-2.0)(3.51,-0.8)(3.53,-2.6)(3.55,-1.2)(3.57,-3.0)(3.59,-1.5)(3.61,-5.0)(3.62,-9.5)(3.63,-2.0)(3.64,-3.2)(3.65,-1.6)(3.66,-6.0)(3.67,-2.2)(3.69,-3.4)(3.70,-1.8)(3.71,-5.5)(3.72,-15.2)(3.73,-3.0)(3.74,-5.0)(3.75,-2.4)(3.76,-4.0)(3.77,-10.0)(3.78,-2.6)(3.79,-4.4)(3.80,-1.8)(3.81,-3.6)(3.82,-6.0)(3.83,-1.6)(3.85,-3.0)(3.86,-1.2)(3.87,-4.0)(3.88,-7.0)(3.89,-2.0)(3.90,-7.0)(3.91,-1.6)(3.93,-2.8)(3.95,-1.0)(3.97,-2.4)(3.99,-0.8)(4.01,-2.0)(4.03,-0.6)(4.05,-1.8)(4.07,-0.9)(4.09,-1.5)(4.12,-1.2)(4.50,-3.0)
(4.52,-1.4)(4.54,-2.8)(4.56,-0.9)(4.58,-2.2)(4.60,-1.2)(4.62,-3.0)(4.64,-0.8)(4.66,-2.0)(4.68,-1.0)(4.69,-3.5)(4.70,-1.2)(4.72,-2.4)(4.74,-0.6)(4.76,-1.8)(4.78,-0.4)(4.80,-2.2)(4.82,-0.9)(4.84,-1.6)(4.86,-0.5)(4.88,-2.6)(4.90,-1.0)(4.92,-1.9)(4.94,-0.7)(4.96,-2.3)(4.98,-1.1)(5.00,-3.0)(5.01,-1.0)(5.03,-2.0)(5.05,-0.6)(5.07,-1.7)(5.09,-0.8)(5.11,-2.5)(5.13,-1.2)(5.15,-2.0)(5.17,-1.4)(5.19,-5.0)(5.20,-1.8)(5.22,-3.2)(5.24,-1.6)(5.26,-2.8)(5.28,-1.2)(5.30,-3.6)(5.32,-1.8)(5.34,-2.6)(5.36,-1.4)(5.38,-3.0)(5.40,-2.0)(5.42,-4.0)(5.43,-2.2)(5.44,-9.5)(5.45,-3.0)(5.46,-4.5)(5.47,-6.0)(5.48,-2.4)(5.50,-3.6)(5.52,-1.8)(5.54,-3.0)(5.56,-1.4)(5.58,-4.0)(5.60,-1.6)(5.62,-3.2)(5.64,-1.2)(5.66,-2.6)(5.68,-1.5)(5.70,-3.4)(5.72,-1.8)(5.74,-4.2)(5.75,-2.0)(5.76,-6.0)(5.77,-2.2)(5.79,-3.6)(5.81,-1.4)(5.83,-2.8)(5.85,-1.0)(5.87,-2.4)(5.89,-0.8)(5.91,-2.0)(5.93,-1.2)(5.95,-3.0)(5.97,-1.4)(5.98,-4.5)(5.99,-1.6)
(6.01,-2.6)(6.03,-0.9)(6.05,-2.2)(6.07,-0.6)(6.09,-3.0)(6.11,-1.2)(6.13,-2.4)(6.15,-0.8)(6.17,-2.0)(6.19,-1.0)(6.21,-3.2)(6.22,-1.6)(6.23,-13.2)(6.24,-2.4)(6.26,-4.0)(6.28,-1.8)(6.29,-9.0)(6.30,-2.0)(6.32,-3.6)(6.34,-1.4)(6.36,-2.8)(6.38,-1.2)(6.39,-4.0)(6.40,-11.4)(6.41,-2.0)(6.43,-3.0)(6.45,-1.0)(6.47,-2.2)(6.48,-5.0)(6.49,-1.2)(6.51,-2.4)(6.53,-0.6)(6.55,-1.8)(6.57,-0.4)(6.59,-2.0)(6.61,-0.8)(6.62,-3.5)(6.63,-1.0)(6.65,-2.2)(6.67,-0.5)(6.69,-1.6)(6.71,-0.7)(6.73,-2.4)(6.75,-1.0)(6.77,-2.0)(6.79,-0.6)(6.81,-1.8)(6.83,-0.9)(6.85,-2.6)(6.87,-1.2)(6.89,-2.0)(6.91,-1.0)(6.92,-4.5)(6.93,-1.4)(6.95,-2.2)(6.97,-0.7)(6.99,-1.9)
(7.01,-0.5)(7.03,-2.3)(7.05,-1.0)(7.07,-1.6)(7.08,-3.0)(7.09,-0.8)(7.11,-2.0)(7.13,-1.1)(7.15,-2.6)(7.17,-1.3)(7.19,-2.2)(7.21,-1.0)(7.23,-3.0)(7.25,-1.4)(7.27,-2.4)(7.29,-1.6)(7.30,-8.4)(7.31,-2.0)(7.33,-3.2)(7.35,-1.8)(7.36,-6.0)(7.37,-1.6)(7.39,-2.6)(7.41,-1.0)(7.43,-2.2)(7.45,-0.6)(7.47,-1.8)(7.49,-0.9)(7.51,-2.6)(7.53,-1.1)(7.55,-1.9)(7.57,-0.7)(7.58,-3.0)(7.59,-1.0)(7.61,-2.2)(7.63,-0.6)(7.65,-1.6)(7.67,-0.4)(7.69,-2.0)(7.71,-0.8)(7.73,-1.8)(7.74,-3.5)(7.75,-1.2)(7.77,-2.4)(7.79,-0.9)(7.81,-2.0)(7.83,-1.2)(7.85,-2.8)(7.87,-1.4)(7.89,-3.2)(7.91,-1.6)(7.93,-2.6)(7.95,-1.8)(7.97,-4.0)(7.98,-11.8)(7.99,-2.4)
(8.01,-4.2)(8.03,-2.0)(8.04,-5.0)(8.05,-8.0)(8.06,-2.6)(8.08,-3.8)(8.10,-1.8)(8.12,-3.0)(8.13,-4.5)(8.14,-1.6)(8.16,-3.4)(8.18,-1.2)(8.20,-2.8)(8.22,-1.6)(8.23,-3.6)(8.24,-8.5)(8.25,-2.2)(8.26,-3.8)(8.27,-6.0)(8.28,-1.8)(8.30,-3.0)(8.32,-1.4)(8.34,-2.6)(8.36,-1.0)(8.38,-3.4)(8.39,-1.6)(8.40,-10.5)(8.41,-2.4)(8.42,-4.0)(8.43,-7.0)(8.44,-1.8)(8.46,-3.0)(8.48,-1.2)(8.50,-2.4)(8.52,-0.8)(8.54,-2.0)(8.56,-4.0)(8.57,-1.2)(8.59,-2.6)(8.61,-1.4)(8.62,-8.5)(8.63,-1.8)(8.65,-3.0)(8.67,-1.0)(8.69,-2.2)(8.71,-0.8)(8.73,-2.6)(8.75,-1.2)(8.77,-2.0)(8.78,-4.0)(8.79,-1.0)(8.81,-2.4)(8.83,-0.7)(8.85,-1.8)(8.87,-1.0)(8.89,-5.5)(8.90,-1.4)(8.92,-2.6)(8.94,-0.8)(8.96,-2.0)(8.98,-1.2)
(9.00,-3.0)(9.02,-1.6)(9.03,-3.4)(9.04,-7.5)(9.05,-1.8)(9.07,-3.0)(9.09,-1.4)(9.11,-5.5)(9.12,-1.6)(9.14,-2.8)(9.16,-1.0)(9.18,-2.2)(9.20,-0.6)(9.22,-1.8)(9.24,-0.8)(9.26,-2.6)(9.28,-1.2)(9.30,-3.0)(9.31,-10.3)(9.32,-1.8)(9.34,-2.6)(9.36,-0.8)(9.38,-1.8)(9.39,-3.0)(9.40,-0.6)(9.42,-1.6)(9.44,-0.3)(9.46,-1.4)(9.48,-0.2)(9.50,-1.8)(9.52,-0.5)(9.54,-1.2)(9.55,-2.0)(9.56,-0.3)(9.58,-1.5)(9.60,-0.6)(9.62,-2.0)(9.64,-0.4)(9.66,-1.6)(9.68,-0.2)(9.70,-1.8)(9.72,-3.5)(9.73,-0.6)(9.75,-1.4)(9.77,-0.3)(9.79,-1.6)(9.81,-0.5)(9.83,-2.2)(9.85,-0.6)(9.87,-1.4)(9.88,-2.0)(9.89,-0.2)(9.91,-1.6)(9.93,-0.4)(9.95,-2.0)(9.97,-0.6)(9.99,-1.5)
(10.01,-0.4)(10.03,-2.2)(10.05,-3.5)(10.06,-0.8)(10.08,-2.0)(10.10,-0.5)(10.12,-1.8)(10.14,-0.4)(10.16,-2.6)(10.18,-1.0)(10.20,-3.0)(10.22,-0.8)(10.24,-2.4)(10.26,-1.2)(10.28,-3.6)(10.30,-1.4)(10.32,-5.5)(10.33,-1.6)(10.35,-3.2)(10.37,-0.6)(10.39,-4.0)(10.41,-1.2)(10.43,-7.0)(10.44,-1.4)(10.46,-4.4)(10.48,-0.8)(10.50,-3.6)(10.52,-1.8)(10.53,-6.0)(10.54,-12.7)(10.55,-3.0)(10.57,-5.0)(10.58,-1.8)(10.60,-8.0)(10.61,-2.4)(10.63,-4.6)(10.64,-2.0)(10.65,-11.5)(10.66,-2.6)(10.68,-4.8)(10.70,-2.2)(10.71,-7.0)(10.72,-1.6)(10.74,-3.8)(10.76,-1.2)(10.78,-4.4)(10.80,-1.8)(10.82,-6.0)(10.83,-2.0)(10.85,-4.0)(10.87,-1.0)(10.89,-3.4)(10.91,-0.6)(10.93,-4.0)(10.94,-1.2)(10.96,-3.0)(10.98,-0.4)
(11.00,-2.6)(11.02,-1.0)(11.04,-7.0)(11.05,-1.6)(11.07,-3.8)(11.09,-0.4)(11.11,-4.6)(11.13,-1.2)(11.15,-9.5)(11.16,-2.0)(11.18,-4.0)(11.19,-3.0)(11.195,-18.0)(11.20,-27.3)(11.205,-24.0)(11.21,-4.0)(11.23,-6.0)(11.25,-3.0)(11.27,-5.0)(11.28,-13.0)(11.29,-4.6)(11.31,-3.4)(11.33,-5.6)(11.35,-3.0)(11.37,-3.0)(11.38,-4.6)(11.40,-2.6)(11.42,-2.5)(11.44,-4.0)(11.46,-2.8)(11.48,-4.4)(11.50,-5.0)(11.51,-2.6)(11.53,-4.2)(11.55,-3.0)(11.56,-8.0)(11.57,-2.8)(11.59,-4.6)(11.61,-2.4)(11.63,-5.0)(11.64,-6.5)(11.65,-2.6)(11.67,-4.4)(11.69,-2.0)(11.71,-3.8)(11.73,-2.2)(11.75,-8.0)(11.76,-2.4)(11.78,-4.2)(11.80,-1.8)(11.82,-3.6)(11.84,-1.6)(11.86,-4.0)(11.87,-2.0)(11.89,-3.4)(11.91,-1.4)(11.93,-4.0)(11.95,-2.0)(11.97,-8.0)(11.98,-2.4)
(12.00,-4.6)(12.02,-7.0)(12.03,-2.6)(12.05,-4.0)(12.07,-2.0)(12.08,-5.0)(12.09,-2.2)(12.11,-3.8)(12.13,-2.0)(12.15,-5.0)(12.16,-21.0)(12.165,-39.0)(12.17,-52.8)(12.175,-28.0)(12.18,-6.0)(12.20,-4.0)(12.21,-7.0)(12.22,-13.0)(12.23,-4.0)(12.25,-6.0)(12.26,-3.4)(12.27,-16.5)(12.28,-4.2)(12.30,-6.0)(12.32,-3.0)(12.33,-10.0)(12.34,-3.4)(12.36,-5.0)(12.38,-2.6)(12.40,-6.0)(12.41,-12.5)(12.42,-3.0)(12.44,-4.4)(12.46,-6.0)(12.47,-2.2)(12.49,-3.4)(12.51,-1.8)(12.52,-4.0)(12.53,-1.6)(12.55,-2.6)(12.57,-1.4)(12.59,-2.8)(12.61,-1.2)(12.63,-2.4)(12.65,-1.0)(12.67,-2.6)(12.69,-1.4)(12.71,-2.2)(12.73,-1.0)(12.75,-2.8)(12.77,-1.2)(12.79,-2.0)(12.81,-1.4)(12.83,-2.6)(12.85,-1.0)(12.87,-2.4)(12.89,-0.6)(12.91,-2.0)(12.93,-1.2)(12.95,-2.8)(12.97,-0.8)(12.99,-2.2)
(13.01,-0.4)(13.03,-1.8)(13.05,-0.3)(13.07,-2.0)(13.09,-0.6)(13.11,-2.4)(13.13,-1.0)(13.15,-3.0)(13.17,-0.4)(13.19,-4.0)(13.21,-0.6)(13.23,-11.3)(13.24,-1.2)(13.26,-3.6)(13.28,-0.4)(13.30,-2.8)(13.32,-0.6)(13.34,-4.0)(13.35,-0.8)(13.37,-3.0)(13.39,-0.4)(13.41,-3.4)(13.43,-5.0)(13.44,-0.8)(13.46,-3.0)(13.48,-1.2)(13.50,-6.0)(13.51,-13.0)(13.52,-2.4)(13.54,-4.8)(13.56,-7.0)(13.57,-1.6)(13.59,-5.0)(13.61,-1.2)(13.63,-6.0)(13.64,-11.3)(13.65,-2.0)(13.67,-5.0)(13.69,-8.0)(13.70,-1.4)(13.72,-4.4)(13.74,-1.0)(13.76,-6.0)(13.77,-0.6)(13.79,-4.0)(13.81,-1.2)(13.83,-5.0)(13.84,-8.8)(13.85,-1.6)(13.87,-3.0)(13.89,-4.0)(13.90,-0.6)(13.92,-2.6)(13.94,-0.4)(13.95,-2.0)(13.97,-2.8)(13.99,-2.4)(14.00,-3.0)
};
\addlegendentry{CoVaR\_China}
\end{axis}
\end{tikzpicture}
\end{document}
